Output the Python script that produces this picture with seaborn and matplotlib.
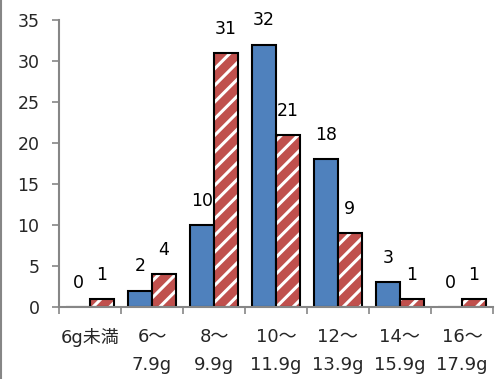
import matplotlib
matplotlib.use("Agg")
import matplotlib.pyplot as plt
import seaborn as sns
import pandas as pd
from matplotlib.patches import Rectangle
from matplotlib.lines import Line2D

categories = ["6g未満", "6～\n7.9g", "8～\n9.9g", "10～\n11.9g", "12～\n13.9g", "14～\n15.9g", "16～\n17.9g"]
series_names = ["A", "B"]
values_a = [0, 2, 10, 32, 18, 3, 0]
values_b = [1, 4, 31, 21, 9, 1, 1]
y_ticks = [0, 5, 10, 15, 20, 25, 30, 35]

sns.set_theme(style="white")
plt.rcParams['font.family'] = ['DejaVu Sans', 'Noto Sans CJK JP']
plt.rcParams['hatch.linewidth'] = 2.2
plt.rcParams['hatch.color'] = 'white'

df = pd.DataFrame({
    "cat": categories * 2,
    "series": [series_names[0]] * len(categories) + [series_names[1]] * len(categories),
    "val": values_a + values_b,
})

fig = plt.figure(figsize=(5.04, 3.79), dpi=100)
ax = fig.add_axes([0.117, 0.19, 0.861, 0.757])

sns.barplot(data=df, x="cat", y="val", hue="series", order=categories,
            hue_order=series_names, palette=["#4F81BD", "#C0504D"],
            width=0.77, gap=0, legend=False, ax=ax, errorbar=None,
            edgecolor="black", linewidth=1.5, saturation=1)

gray = "#868686"
n = len(categories)
for c_i, cont in enumerate(ax.containers):
    vals = values_a if c_i == 0 else values_b
    if c_i == 1:
        for p in cont.patches:
            p.set_hatch("//")
            p.set_edgecolor("white")
            p.set_linewidth(0)
            ax.add_patch(Rectangle((p.get_x(), p.get_y()), p.get_width(), p.get_height(),
                                   fill=False, edgecolor="black", linewidth=1.5, zorder=p.get_zorder() + 0.1))
    for p, v in zip(cont.patches, vals):
        ax.annotate(str(v), (p.get_x() + p.get_width() / 2, v), xytext=(0, 11),
                    textcoords="offset points", ha="center", va="bottom", fontsize=12.5, color="black")

ax.set_ylim(0, 35)
ax.set_xlim(-0.5, n - 0.5)
ax.set_yticks(y_ticks)
ax.set_xticks(range(n))
ax.set_xticklabels(categories, linespacing=1.75, va="top")
ax.set_xticks([i - 0.5 for i in range(n + 1)], minor=True)
ax.set_xlabel("")
ax.set_ylabel("")

for s in ["top", "right"]:
    ax.spines[s].set_visible(False)
for s in ["left", "bottom"]:
    ax.spines[s].set_color(gray)
    ax.spines[s].set_linewidth(1.5)

ax.tick_params(axis="y", which="major", left=True, length=5, width=1.2, color=gray, pad=9, labelsize=12.5)
ax.tick_params(axis="x", which="major", bottom=False, length=0, pad=15, labelsize=13)
ax.tick_params(axis="x", which="minor", bottom=True, length=5, width=1.2, color=gray)

fig.add_artist(Line2D([0.002, 0.002], [0, 1], color=gray, linewidth=1.5, transform=fig.transFigure))

fig.savefig("out.png", dpi=100)
